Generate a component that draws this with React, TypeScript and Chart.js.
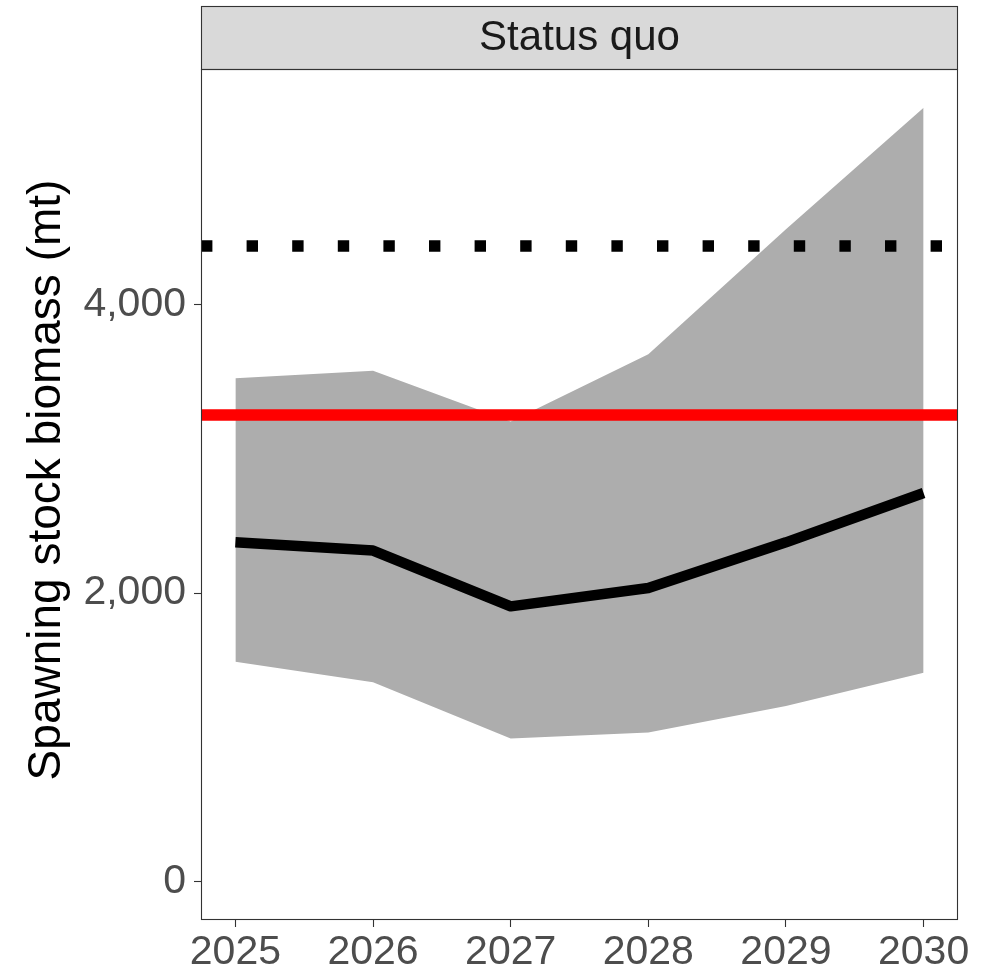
import React, { useEffect, useRef } from 'react';
import { Chart, registerables } from 'chart.js';

Chart.register(...registerables);

// ---- data ----
const YEARS = [2025, 2026, 2027, 2028, 2029, 2030];
const SSB_MEDIAN = [2353, 2295, 1908, 2035, 2352, 2694];
const SSB_UPPER = [3491, 3542, 3190, 3657, 4525, 5368];
const SSB_LOWER = [1523, 1382, 992, 1032, 1217, 1447];
const REF_LIMIT = 3236; // red solid line
const REF_TARGET = 4408; // black dotted line
const X_RANGE = [2024.75, 2030.25];
const Y_RANGE = [-268, 5636];
const Y_TICKS = [0, 2000, 4000];
const PANEL_TITLE = 'Status quo';
const Y_TITLE = 'Spawning stock biomass (mt)';

const FONT = "'Liberation Sans', Arial, Helvetica, sans-serif";

const stripPlugin = {
  id: 'facetStrip',
  afterDraw(chart: any) {
    const { ctx, chartArea: a } = chart;
    const stripTop = 6;
    ctx.save();
    // strip
    ctx.fillStyle = '#D9D9D9';
    ctx.fillRect(a.left, stripTop, a.right - a.left, a.top - stripTop);
    ctx.strokeStyle = '#333333';
    ctx.lineWidth = 1.1;
    ctx.strokeRect(a.left + 0.5, stripTop + 0.5, a.right - a.left - 1, a.top - stripTop);
    ctx.fillStyle = '#1A1A1A';
    ctx.font = `42px ${FONT}`;
    ctx.textAlign = 'center';
    ctx.textBaseline = 'middle';
    ctx.fillText(PANEL_TITLE, (a.left + a.right) / 2, (stripTop + a.top) / 2 + 1);
    // panel border
    ctx.strokeStyle = '#333333';
    ctx.lineWidth = 1.1;
    ctx.strokeRect(a.left + 0.5, a.top + 0.5, a.right - a.left - 1, a.bottom - a.top - 1);
    // y axis title
    ctx.save();
    ctx.translate(47, (stripTop + a.bottom) / 2 + 17);
    ctx.rotate(-Math.PI / 2);
    ctx.fillStyle = '#000000';
    ctx.font = `46px ${FONT}`;
    ctx.textAlign = 'center';
    ctx.textBaseline = 'middle';
    ctx.fillText(Y_TITLE, 0, 0);
    ctx.restore();
    ctx.restore();
  },
};

export default function App() {
  const ref = useRef<HTMLCanvasElement>(null);

  useEffect(() => {
    if (!ref.current) return;
    const pts = (ys: number[]) => YEARS.map((x, i) => ({ x, y: ys[i] }));
    const hline = (v: number) => [
      { x: X_RANGE[0], y: v },
      { x: X_RANGE[1], y: v },
    ];
    const gridOpts = {
      display: true,
      drawOnChartArea: false,
      drawTicks: true,
      tickLength: 7,
      tickColor: '#333333',
      tickWidth: 1.1,
    };
    const chart = new Chart(ref.current, {
      type: 'line',
      data: {
        datasets: [
          {
            label: 'Median',
            data: pts(SSB_MEDIAN),
            borderColor: '#000000',
            borderWidth: 10.5,
            borderJoinStyle: 'round',
            borderCapStyle: 'butt',
            pointRadius: 0,
            fill: false,
            tension: 0,
          },
          {
            label: 'Target',
            data: hline(REF_TARGET),
            borderColor: '#000000',
            borderWidth: 11.4,
            borderDash: [11.4, 34.2],
            borderCapStyle: 'butt',
            pointRadius: 0,
            fill: false,
          },
          {
            label: 'Limit',
            data: hline(REF_LIMIT),
            borderColor: '#FF0000',
            borderWidth: 11.4,
            borderCapStyle: 'butt',
            pointRadius: 0,
            fill: false,
          },
          {
            label: 'Upper',
            data: pts(SSB_UPPER),
            borderColor: 'rgba(0,0,0,0)',
            borderWidth: 0,
            backgroundColor: '#ADADAD',
            pointRadius: 0,
            fill: '+1',
          },
          {
            label: 'Lower',
            data: pts(SSB_LOWER),
            borderColor: 'rgba(0,0,0,0)',
            borderWidth: 0,
            pointRadius: 0,
            fill: false,
          },
        ],
      },
      options: {
        responsive: false,
        devicePixelRatio: 1,
        animation: false,
        layout: { padding: { top: 69, right: 28, bottom: 0, left: 0 } },
        plugins: {
          legend: { display: false },
          tooltip: { enabled: false },
        },
        scales: {
          x: {
            type: 'linear',
            min: X_RANGE[0],
            max: X_RANGE[1],
            afterBuildTicks: (s: any) => {
              s.ticks = YEARS.map((v) => ({ value: v }));
            },
            afterFit: (s: any) => {
              s.height = 51;
            },
            grid: gridOpts,
            border: { display: false },
            ticks: {
              color: '#4D4D4D',
              font: { family: FONT, size: 41 },
              padding: 1,
              maxRotation: 0,
              autoSkip: false,
              callback: (v: any) => String(v),
            },
          },
          y: {
            type: 'linear',
            min: Y_RANGE[0],
            max: Y_RANGE[1],
            afterBuildTicks: (s: any) => {
              s.ticks = Y_TICKS.map((v) => ({ value: v }));
            },
            afterFit: (s: any) => {
              s.width = 201;
            },
            grid: gridOpts,
            border: { display: false },
            ticks: {
              color: '#4D4D4D',
              font: { family: FONT, size: 41 },
              padding: 8,
              autoSkip: false,
              callback: (v: any) => Number(v).toLocaleString('en-US'),
            },
          },
        },
      },
      plugins: [stripPlugin],
    } as any);
    return () => chart.destroy();
  }, []);

  return (
    <canvas
      ref={ref}
      width={986}
      height={971}
      style={{ position: 'absolute', left: 0, top: 0 }}
    />
  );
}
